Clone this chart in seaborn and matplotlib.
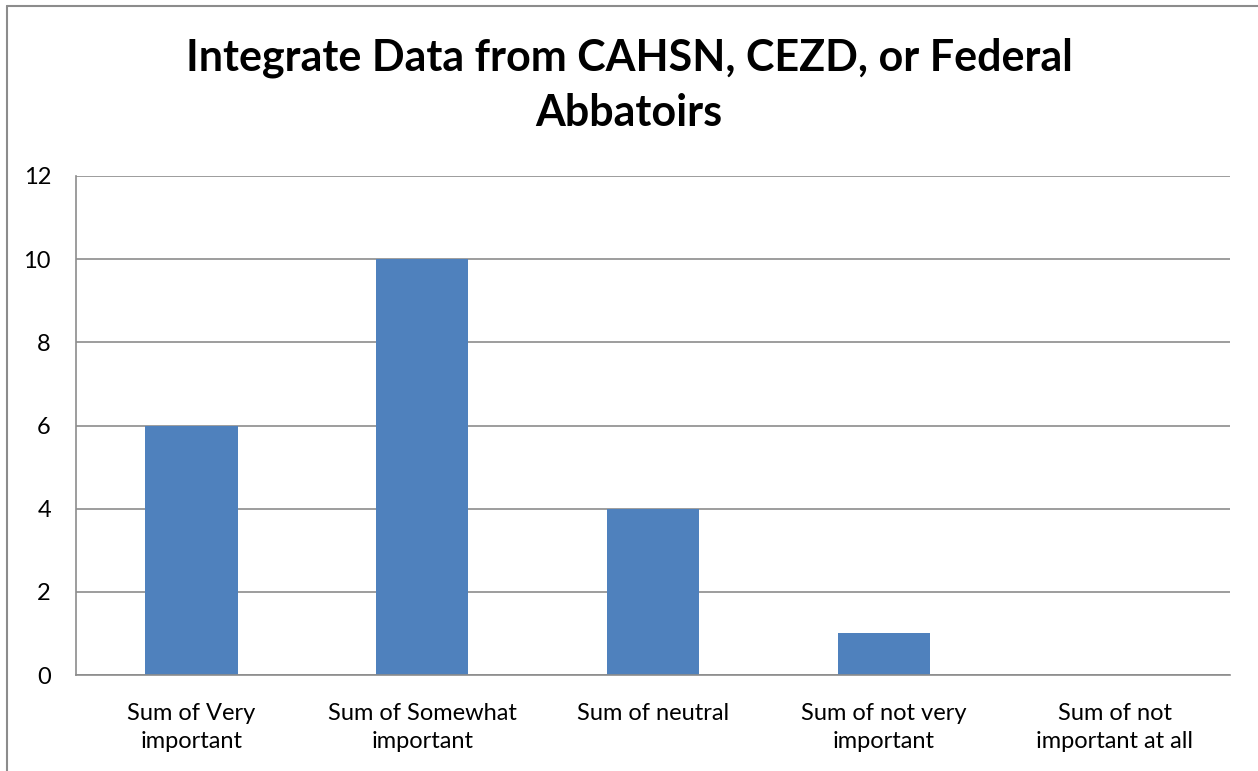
import matplotlib
matplotlib.use("Agg")
import matplotlib.pyplot as plt
import seaborn as sns
import pandas as pd
from matplotlib.lines import Line2D

categories = ["Sum of Very\nimportant", "Sum of Somewhat\nimportant", "Sum of neutral",
              "Sum of not very\nimportant", "Sum of not\nimportant at all"]
values = [6, 10, 4, 1, 0]
y_ticks = [0, 2, 4, 6, 8, 10, 12]
title = "Integrate Data from CAHSN, CEZD, or Federal\nAbbatoirs"

sns.set_style("white")
plt.rcParams['font.family'] = ['Lato', 'DejaVu Sans']
plt.rcParams['text.color'] = 'black'
plt.rcParams['xtick.color'] = 'black'
plt.rcParams['ytick.color'] = 'black'

df = pd.DataFrame({"cat": categories, "val": values})

fig = plt.figure(figsize=(12.58, 7.71), dpi=100)
ax = fig.add_axes([76 / 1258, 96 / 771, 1154 / 1258, 499 / 771])

sns.barplot(data=df, x="cat", y="val", color="#4F81BD", width=0.4, saturation=1,
            linewidth=0, ax=ax)

ax.set_xlim(-0.5, len(categories) - 0.5)
ax.set_ylim(0, 12)
ax.set_yticks(y_ticks)
ax.yaxis.grid(True, color="#8c8c8c", linewidth=1.2)
ax.set_axisbelow(True)
ax.set_xlabel("")
ax.set_ylabel("")

for s in ["top", "right"]:
    ax.spines[s].set_visible(False)
for s in ["left", "bottom"]:
    ax.spines[s].set_color("#8c8c8c")
    ax.spines[s].set_linewidth(1.2)

# category boundary ticks on the x axis
ax.set_xticks([i - 0.5 for i in range(len(categories) + 1)], minor=True)
ax.tick_params(axis="x", which="minor", length=8, width=1.2, color="#8c8c8c", direction="out")
ax.tick_params(axis="x", which="major", length=0, labelsize=17, pad=20)
ax.tick_params(axis="y", length=8, width=1.2, color="#8c8c8c", direction="out", labelsize=17, pad=10)
for lbl in ax.get_xticklabels():
    lbl.set_linespacing(1.45)

fig.text(0.5, 1 - 85 / 771, title, ha="center", va="center", fontsize=31,
         fontweight="bold", linespacing=1.45)

# outer chart border
fig.add_artist(Line2D([7 / 1258, 7 / 1258], [0, 1 - 6 / 771], color="#8c8c8c", linewidth=1.5))
fig.add_artist(Line2D([7 / 1258, 1], [1 - 6 / 771, 1 - 6 / 771], color="#8c8c8c", linewidth=1.5))

fig.savefig("out.png", dpi=100)
